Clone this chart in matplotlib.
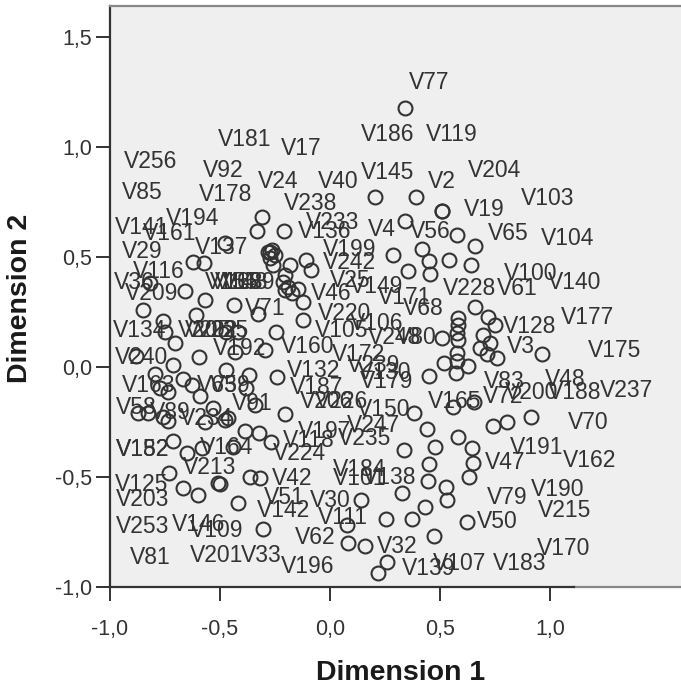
import matplotlib
matplotlib.use('Agg')
import matplotlib.pyplot as plt

plt.rcParams['font.family'] = ['Liberation Sans', 'DejaVu Sans']

# object points
point_x = [.341, .205, .391, .509, .509, .341, .577, .659, .418, .286, .45, .541, .641, .355, .455,
           .659, .718, .75, .582, .582, .577, .695, .509, .582, .727, .682, .714, .759, .964, .577,
           .577, .518, .627, .573, .45, .559, .655, .382, .441, .741, .805, .914, .582, .645, .477,
           .336, .65, .45, .445, .632, .527, .532, .327, .432, .373, .141, .255, .077, .623, .082,
           .159, .473, .259, .218,
           -.309, -.332, -.209, -.477, -.623, -.573, -.282, -.273, -.264, -.25, -.259, -.273, -.182,
           -.109, -.086, -.818, -.659, -.568, -.85, -.436, -.327, -.609, -.214, -.205, -.145, -.173,
           -.191, -.205, -.123, -.123, -.245, -.759, -.75, -.418, -.473, -.705, -.432, -.295, -.595,
           -.882, -.714, -.473, -.368, -.241, -.795, -.668, -.773, -.736, -.627, -.591, -.382, -.341,
           -.532, -.205, -.873, -.827, -.736, -.759, -.568, -.477, -.464, -.386, -.323, -.268, -.714,
           -.65, -.582, -.441, -.732, -.668, -.6, -.509, -.5, -.364, -.318, -.418, -.305]
point_y = [1.177, .773, .773, .709, .709, .664, .6, .55, .536, .509, .482, .486, .464, .436, .423,
           .273, .227, .191, .223, .191, .155, .145, .132, .123, .109, .086, .059, .041, .059, .064,
           .027, .018, .005, -.027, -.041, -.182, -.159, -.209, -.282, -.268, -.25, -.227, -.318, -.368, -.364,
           -.377, -.436, -.441, -.518, -.5, -.545, -.605, -.573, -.636, -.691, -.605, -.691, -.718, -.705, -.8,
           -.814, -.768, -.886, -.936,
           .682, .618, .618, .564, .477, .473, .523, .523, .532, .509, .464, .495, .464,
           .486, .441, .382, .345, .305, .259, .282, .241, .236, .386, .35, .355, .336,
           .364, .418, .295, .214, .159, .209, .159, .159, .159, .109, .068, .077, .045,
           .05, .009, -.014, -.036, -.045, -.032, -.055, -.095, -.114, -.082, -.132, -.095, -.173,
           -.186, -.214, -.209, -.209, -.245, -.227, -.25, -.241, -.232, -.291, -.3, -.341, -.336,
           -.391, -.368, -.364, -.482, -.55, -.582, -.527, -.532, -.5, -.505, -.618, -.736]

label_names = ['V77', 'V181', 'V17', 'V186', 'V119', 'V256', 'V92', 'V204', 'V145', 'V40', 'V24', 'V2',
               'V85', 'V178', 'V103', 'V238', 'V19', 'V194', 'V233', 'V141', 'V161', 'V136', 'V4', 'V56',
               'V65', 'V104', 'V29', 'V137', 'V199', 'V242', 'V116', 'V100', 'V140', 'V25', 'V61', 'V149',
               'V228', 'V36', 'V209', 'V46', 'V71', 'V171', 'V68', 'V220', 'V105', 'V106', 'V248', 'V80',
               'V128', 'V177', 'V134', 'V205', 'V202', 'V225', 'V192', 'V160', 'V3', 'V175', 'V240', 'V172',
               'V239', 'V132', 'V130', 'V179', 'V163', 'V63', 'V59', 'V187', 'V83', 'V48', 'V200', 'V188',
               'V237', 'V72', 'V165', 'V91', 'V206', 'V226', 'V150', 'V58', 'V89', 'V234', 'V247', 'V70',
               'V197', 'V118', 'V235', 'V191', 'V182', 'V152', 'V164', 'V224', 'V213', 'V47', 'V162', 'V184',
               'V101', 'V138', 'V42', 'V125', 'V79', 'V190', 'V203', 'V51', 'V30', 'V142', 'V215', 'V111',
               'V50', 'V253', 'V146', 'V109', 'V62', 'V32', 'V201', 'V33', 'V170', 'V81', 'V196', 'V107',
               'V183', 'V139', 'V168', 'V189', 'V148', 'V155']
label_x = [.359, -.509, -.223, .141, .436, -.936, -.577, .627, .141, -.055, -.327, .445,
           -.945, -.595, .868, -.209, .609, -.745, -.109, -.977, -.85, -.145, .173, .364,
           .718, .959, -.945, -.614, -.032, -.032, -.895, .791, .991, 0, .759, .091,
           .514, -.982, -.932, -.086, -.386, .218, .332, -.055, -.068, .091, .173, .3,
           .786, 1.05, -.986, -.691, -.659, -.609, -.532, -.223, .805, 1.173, -.977, .009,
           .077, -.195, .127, .136, -.945, -.605, -.545, -.182, .7, .977, .795, .991,
           1.227, .695, .445, -.445, -.136, -.068, .123, -.973, -.818, -.682, .077, 1.082,
           -.145, -.214, .036, .818, -.973, -.973, -.591, -.259, -.668, .705, 1.059, .014,
           .014, .15, -.264, -.977, .714, .914, -.973, -.3, -.091, -.332, .945, -.055,
           .668, -.973, -.718, -.636, -.159, .214, -.636, -.405, .941, -.909, -.223, .468,
           .741, .327, -.545, -.491, -.523, -.568]
label_y = [1.291, 1.036, .991, 1.059, 1.059, .932, .895, .891, .882, .841, .841, .841,
           .795, .786, .764, .745, .714, .677, .655, .632, .609, .614, .627, .614,
           .609, .582, .527, .545, .532, .473, .432, .427, .382, .391, .359, .364,
           .355, .382, .336, .336, .268, .318, .264, .245, .164, .2, .136, .136,
           .182, .223, .164, .164, .164, .164, .086, .091, .091, .073, .041, .055,
           .009, -.014, -.023, -.064, -.086, -.086, -.086, -.095, -.064, -.059, -.114, -.118,
           -.109, -.136, -.159, -.164, -.159, -.159, -.195, -.186, -.205, -.232, -.264, -.25,
           -.295, -.332, -.327, -.368, -.377, -.377, -.368, -.391, -.459, -.432, -.423, -.464,
           -.505, -.5, -.505, -.532, -.591, -.555, -.6, -.595, -.605, -.65, -.65, -.686,
           -.7, -.727, -.714, -.741, -.777, -.814, -.855, -.859, -.827, -.868, -.909, -.891,
           -.895, -.918, .382, .382, .382, .382]

x_ticks = [-1.0, -0.5, 0.0, 0.5, 1.0]
y_ticks = [-1.0, -0.5, 0.0, 0.5, 1.0, 1.5]
x_ticklabels = ['-1,0', '-0,5', '0,0', '0,5', '1,0']
y_ticklabels = ['-1,0', '-0,5', '0,0', '0,5', '1,0', '1,5']

W, H = 681, 690
fig = plt.figure(figsize=(W / 100, H / 100), dpi=100)
ax = fig.add_axes([110 / W, 1 - 587 / H, (W - 110) / W, (587 - 6) / H])
ax.set_facecolor('#efefef')
ax.set_xlim(-1.0, 1.595)
ax.set_ylim(-1.0, 1.641)

ax.plot(point_x, point_y, 'o', mfc='none', mec='#333333', ms=10, mew=1.5, zorder=3)
for name, x, y in zip(label_names, label_x, label_y):
    ax.text(x, y, name, fontsize=16.5, color='#333333', ha='left', va='center', zorder=4)

ax.spines['right'].set_visible(False)
ax.spines['top'].set_color('#888888')
ax.spines['top'].set_linewidth(1.6)
ax.spines['left'].set_color('#333333')
ax.spines['left'].set_linewidth(1.6)
ax.spines['bottom'].set_color('#333333')
ax.spines['bottom'].set_linewidth(1.6)
ax.spines['bottom'].set_bounds(-1.0, 1.11)
ax.plot([1.11, 1.595], [-1.0, -1.0], color='#888888', lw=1.6, clip_on=False, zorder=2)

ax.set_xticks(x_ticks)
ax.set_xticklabels(x_ticklabels)
ax.set_yticks(y_ticks)
ax.set_yticklabels(y_ticklabels)
ax.tick_params(axis='both', length=10, width=1.4, color='#333333', labelsize=15.5, labelcolor='#333333')
ax.tick_params(axis='x', pad=13)
ax.tick_params(axis='y', pad=3)

fig.text(401 / W, 1 - 673 / H, 'Dimension 1', fontsize=20.5, fontweight='bold', color='#1a1a1a', ha='center', va='center')
fig.text(20 / W, 1 - 298 / H, 'Dimension 2', fontsize=20.5, fontweight='bold', color='#1a1a1a', rotation=90, ha='center', va='center')

fig.savefig('out.png', dpi=100)
